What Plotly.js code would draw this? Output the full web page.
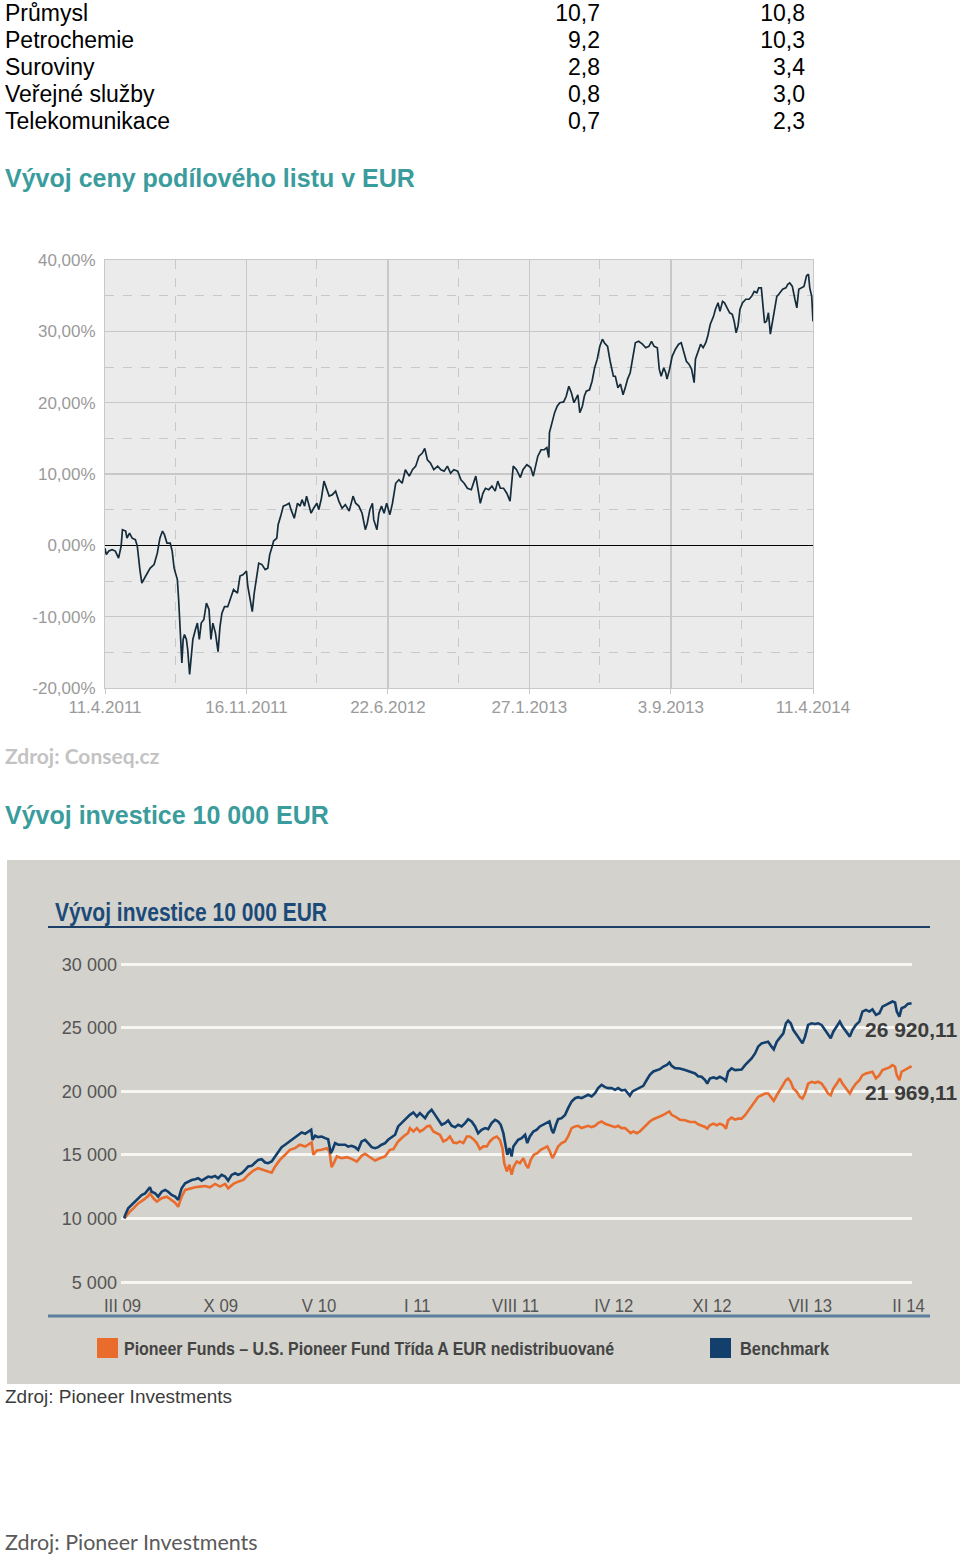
<!DOCTYPE html>
<html><head><meta charset="utf-8">
<script src="https://cdn.plot.ly/plotly-3.0.1.min.js"></script>
<style>
html,body{margin:0;padding:0;background:#fff;}
body{width:960px;height:1556px;position:relative;overflow:hidden;}
.t{position:absolute;white-space:nowrap;}
#c1{position:absolute;left:0;top:230px;width:960px;height:500px;}
#c2{position:absolute;left:7px;top:860px;width:953px;height:524px;}
</style></head>
<body>
<div id="hdr"></div>
<div id="c1"></div>
<div id="c2"></div>
<script>
// ---------- table ----------
const sectors = ['Průmysl','Petrochemie','Suroviny','Veřejné služby','Telekomunikace'];
const sectorFund = [10.7, 9.2, 2.8, 0.8, 0.7];
const sectorBench = [10.8, 10.3, 3.4, 3.0, 2.3];

// ---------- chart 1: NAV development (% since 11.4.2011) ----------
const navStart = '2011-04-11';
const navDays = [
0,2,6,11,16,21,25,27,32,34,38,42,47,50,54,57,63,70,76,81,
85,89,92,96,101,104,107,112,114,117,119,121,123,126,128,131,133,136,140,143,
146,149,153,157,161,164,167,171,175,178,181,185,190,194,199,205,209,214,219,221,
225,228,231,235,238,243,248,252,255,259,261,266,268,272,276,281,285,288,293,298,
302,305,309,312,316,319,323,328,331,335,339,343,347,352,357,362,367,372,378,384,
388,393,398,403,406,410,414,416,421,424,428,432,436,441,445,450,455,460,465,471,
476,481,486,491,495,499,504,509,515,520,525,530,535,540,546,551,556,561,567,574,579,
581,585,589,594,599,604,608,612,617,622,
627,632,637,643,647,653,659,663,666,670,
675,680,684,687,688,692,696,700,704,710,
714,718,722,726,730,732,735,739,742,745,
750,754,758,762,766,770,773,778,782,787,
790,794,798,802,806,809,813,818,821,826,
832,837,842,846,850,855,858,861,865,868,
870,874,878,883,888,892,896,900,904,908,
911,912,914,918,922,926,930,933,937,942,
945,949,952,956,959,963,967,971,974,977,
980,983,987,992,997,1001,1005,1009,1012,1016,
1019,1021,1024,1027,1030,1034,1037,1040,1043,1049,
1054,1057,1060,1064,1068,1071,1074,1078,1082,1086,
1089,1091,1094,1096];
const navPct = [
-0.4,-1.3,-0.8,-0.6,-0.8,-1.8,-0.1,2.2,2.0,1.0,1.7,1.0,0.8,-0.1,-3.4,-5.3,-4.3,-3.2,-2.7,-1.1,
1.0,2.0,1.5,0.3,0.3,-0.8,-3.2,-4.8,-7.6,-13.2,-16.5,-13.2,-12.5,-13.2,-14.6,-18.1,-16.5,-13.2,-11.8,-10.9,
-13.2,-10.9,-10.4,-8.1,-9.0,-13.2,-10.9,-12.3,-14.9,-11.4,-9.5,-8.6,-8.6,-7.6,-6.2,-6.7,-4.3,-4.1,-3.6,-5.7,
-8.1,-9.3,-6.7,-3.9,-2.5,-2.7,-3.4,-3.2,-1.3,-0.1,0.6,1.0,2.9,4.1,5.5,5.7,5.9,5.0,3.8,5.9,
5.5,6.4,5.5,6.9,5.5,4.5,5.2,5.9,5.0,6.6,9.0,8.0,6.9,7.1,7.6,6.2,5.2,5.7,4.8,6.9,
5.9,5.5,4.5,2.2,3.1,5.0,5.9,3.6,2.2,4.5,5.5,4.5,5.9,4.3,5.9,8.7,9.2,8.7,10.6,9.7,
10.6,11.1,12.5,12.9,13.6,12.0,11.5,10.6,11.1,10.6,10.4,11.1,10.1,10.6,10.4,9.2,8.7,8.0,7.8,9.7,7.3,
5.9,7.3,8.0,7.8,8.3,7.6,9.0,8.0,8.0,7.3,
6.2,11.1,10.6,9.5,10.6,11.3,10.9,9.7,11.1,12.5,
13.4,13.4,13.7,12.3,15.8,17.2,18.6,19.5,20.0,20.1,
20.9,22.3,21.4,20.0,20.9,21.1,18.6,19.5,20.9,21.6,
21.8,23.0,24.9,26.1,27.9,28.9,28.4,27.9,25.8,23.7,
23.7,22.1,22.6,21.1,22.3,23.3,24.2,26.8,28.4,28.6,
28.2,27.7,27.9,28.6,27.9,27.7,24.7,23.7,24.9,24.2,
23.3,24.7,26.5,27.5,28.2,28.4,27.0,25.8,25.4,24.7,
23.3,22.8,26.1,27.2,28.2,27.7,28.4,29.3,31.0,32.1,
33.1,34.0,32.8,34.2,34.0,33.3,32.6,32.4,31.4,29.8,
30.8,33.1,34.0,34.5,34.5,34.9,35.6,35.4,36.1,36.1,
33.5,31.2,31.4,32.6,29.6,31.7,33.5,34.9,35.2,35.9,
36.1,36.6,36.8,36.3,34.5,33.3,35.9,36.1,36.3,37.8,
38.0,36.1,34.9,31.4];
const navTickDates = ['2011-04-11','2011-11-16','2012-06-22','2013-01-27','2013-09-03','2014-04-11'];
const navTickLabels = ['11.4.2011','16.11.2011','22.6.2012','27.1.2013','3.9.2013','11.4.2014'];
const pctTicks = [-20,-10,0,10,20,30,40];
const priceTicks = [3.352,3.771,4.190,4.609,5.028,5.447,5.866];

// ---------- chart 2: investment of 10 000 EUR ----------
const invStart = '2009-03-05';
const seriesNames = ['Pioneer Funds – U.S. Pioneer Fund Třída A EUR nedistribuované','Benchmark'];
const fundDays = [
4,10,17,25,36,48,59,63,71,79,90,102,113,121,128,136,144,155,167,178,
190,201,213,224,236,243,255,266,278,289,301,312,324,335,343,351,362,374,385,397,
408,420,431,435,439,447,458,470,476,481,486,493,504,516,527,539,550,558,569,581,
592,604,615,623,634,646,657,
661,669,677,684,692,700,707,715,723,730,738,746,753,761,769,776,784,792,799,807,
815,822,830,838,845,853,861,868,874,878,884,890,895,900,907,914,922,928,933,939,
946,954,962,969,977,983,989,995,1002,1010,1018,1025,1033,1041,1048,1056,1064,1071,1079,1087,
1094,1102,1110,1117,1125,1133,1140,1148,1156,1163,1169,1175,1183,1190,1198,1206,1213,1221,1229,1236,
1244,1252,1258,1263,1271,
1282,1294,1305,1317,1324,1332,1340,1345,1351,1359,1367,1374,1382,1388,1393,1401,1409,1416,1424,1432,
1439,1447,1455,1462,1470,1478,1485,1493,1498,1505,1512,1520,1526,1531,1537,1543,1551,1558,1564,1570,
1577,1585,1593,1600,1608,1616,1623,1629,1635,1643,1650,1656,1662,1669,1673,1679,1687,1695,1702,1710,
1718,1725,1733,1741,1748,1756,1764,1771,1777,1781,1787,1792,1800,1806,1815];
const fundValues = [
10000,10260,10530,10790,11180,11450,11760,11970,11580,11320,11580,11710,11450,11240,10920,11710,12240,12370,12450,12500,
12550,12450,12710,12500,12710,12370,12710,12890,13020,13420,13760,13950,13810,13680,13600,14080,14600,15000,15390,15520,
15790,15650,15920,15970,15000,15340,15390,15520,15260,14020,14340,14870,14730,14810,14680,14470,14920,15080,14810,14550,
14730,14870,15390,15440,16050,16440,16710,
17100,16830,17100,16830,16970,17230,17280,16830,16700,16570,16050,16180,16440,15970,15920,16050,15920,16440,16440,16230,
15920,15450,15660,15660,16050,16310,16440,16180,15520,14340,13690,14210,13430,14080,14480,14340,14740,14210,13950,14610,
15000,15130,15390,15520,15660,15260,14740,15130,15660,15920,16050,16440,17100,17230,17280,17100,17230,17280,17170,17280,
17490,17620,17440,17360,17280,17170,17280,17100,17100,16910,16700,16830,16700,16830,17100,17360,17620,17800,17880,18010,
18140,18280,18410,18140,18010,
17760,17710,17580,17580,17400,17320,17190,17060,17320,17450,17320,17450,17320,17060,17710,17920,17760,17840,17840,18110,
18450,18760,19160,19550,19680,19820,19820,19500,19240,19680,20080,20470,20870,21000,20740,20210,19950,19550,19420,19820,
20600,20740,20660,20740,20600,20210,19820,19680,20210,20600,21000,20600,20340,19950,19820,20210,20600,20870,21260,21390,
21450,21530,21000,21260,21660,21790,21870,22050,21920,21260,20870,21530,21660,21790,21969.11];
const benchDays = [
4,6,13,21,29,36,44,52,59,63,67,75,82,90,98,105,113,121,128,136,
144,151,159,167,174,182,190,197,205,213,220,228,236,243,251,259,266,274,282,289,
297,305,312,320,328,335,343,351,358,366,374,381,389,397,404,412,420,427,434,437,
443,450,458,466,473,479,483,489,496,504,512,519,527,535,542,550,558,565,573,581,
588,596,604,611,619,627,634,642,650,657,
661,669,677,684,696,703,711,719,726,734,742,749,757,765,772,780,788,795,803,811,
818,826,834,841,849,857,864,870,876,881,885,890,895,899,905,910,918,926,931,937,
945,953,960,968,976,982,987,991,997,1002,1010,1018,1025,1033,1041,1048,1056,1064,1071,1079,
1087,1094,1102,1110,1117,1125,1133,1140,1148,1156,1163,1167,1173,1181,1190,1198,1206,1213,1221,1229,
1236,1244,1252,1258,1263,1271,
1282,1294,1305,1317,1324,1332,1340,1345,1351,1359,1367,1374,1382,1388,1393,1401,1409,1416,1424,1432,
1439,1447,1455,1462,1470,1478,1485,1493,1498,1505,1512,1520,1526,1531,1537,1543,1551,1558,1564,1570,
1577,1585,1593,1600,1608,1616,1623,1629,1635,1643,1650,1656,1662,1669,1673,1679,1687,1695,1702,1710,
1718,1725,1733,1741,1748,1756,1764,1771,1777,1781,1787,1792,1800,1806,1815];
const benchValues = [
10000,10260,10790,11050,11320,11580,11840,11970,12240,12450,12100,11970,11710,12100,12240,12100,11840,11710,11450,12370,
12760,12890,13020,13080,13160,12970,13160,13290,13230,13340,13160,13420,13290,12970,13420,13550,13420,13550,13810,14080,
14130,14390,14600,14650,14390,14340,14470,14870,15260,15600,15790,15970,16180,16390,16580,16760,16650,16840,16970,16180,
16500,16390,16440,16310,16230,15130,15390,15920,15790,15790,15790,15650,15710,15600,15390,16050,16180,15920,15600,15520,
15600,15790,15920,16180,16390,16580,17230,17500,17760,18020,
18140,18330,18010,18280,17880,18280,18540,18140,17750,17360,17490,17700,17280,17170,17360,17230,17490,17800,17620,17230,
16700,16970,17100,17020,17490,17750,17620,17360,16700,15660,15000,15520,14870,15660,15920,16180,16310,16570,15920,16440,
16830,16970,17230,17360,17490,17620,16970,16700,17360,17800,17880,18140,18670,19190,19450,19530,19450,19590,19720,19590,
19850,20240,20500,20320,20240,20240,20110,20240,20060,20110,19850,19640,19980,20110,20240,20420,20900,21290,21550,21680,
21730,21940,22070,22260,22000,21810,
21790,21660,21530,21390,21180,21130,20870,20600,21000,21080,21000,21130,21000,20820,21530,21790,21660,21710,21710,22050,
22310,22580,22970,23500,23760,23810,23890,23500,23290,23890,24160,24550,25340,25550,25340,24810,24420,24020,23760,24290,
25210,25340,25290,25340,25210,24810,24420,24160,24680,25080,25470,25080,24810,24420,24290,24810,25210,25470,26260,26390,
26260,26440,26000,26130,26650,26790,26920,27050,26970,26260,25860,26520,26650,26860,26920.11];
const invTickDates = ['2009-03-05','2009-10-17','2010-05-31','2011-01-12','2011-08-26','2012-04-08','2012-11-20','2013-07-04','2014-02-15'];
const invTickLabels = ['III 09','X 09','V 10','I 11','VIII 11','IV 12','XI 12','VII 13','II 14'];
const invTicks = [5000,10000,15000,20000,25000,30000];

// ---------- helpers ----------
function dayDate(start, d){
  const b = Date.parse(start + 'T00:00:00Z');
  return new Date(b + d*864e5).toISOString().slice(0,19).replace('T',' ');
}
function czNum(v, dec){
  const s = v.toFixed(dec).split('.');
  const i = s[0].replace(/\B(?=(\d{3})+(?!\d))/g, ' ');
  return dec ? i + ',' + s[1] : i;
}
const ARIAL = '"Liberation Sans", Arial, sans-serif';
const CALIBRI = 'Lato, "Open Sans", sans-serif';

// ---------- header / html texts ----------
const hdr = document.getElementById('hdr');
function txt(s, x, yc, fs, css, align){
  const d = document.createElement('div');
  d.className = 't';
  d.textContent = s;
  d.style.cssText += 'font-size:'+fs+'px;line-height:'+fs+'px;top:'+(yc - fs*0.5)+'px;' + css;
  if (align === 'right') d.style.right = (960 - x) + 'px'; else d.style.left = x + 'px';
  hdr.appendChild(d);
}
sectors.forEach((s, i) => {
  const y = 13 + i*27;
  txt(s, 5, y, 23, 'font-family:'+ARIAL+';color:#000;');
  txt(czNum(sectorFund[i],1), 600, y, 23, 'font-family:'+ARIAL+';color:#000;', 'right');
  txt(czNum(sectorBench[i],1), 805, y, 23, 'font-family:'+ARIAL+';color:#000;', 'right');
});
txt('Vývoj ceny podílového listu v EUR', 5, 178, 25, 'font-family:'+ARIAL+';font-weight:bold;color:#3a9c9c;');
txt('Zdroj: Conseq.cz', 5, 755, 21, 'font-family:'+CALIBRI+';font-weight:bold;color:#c3c3c3;');
txt('Vývoj investice 10 000 EUR', 5, 815, 25, 'font-family:'+ARIAL+';font-weight:bold;color:#3a9c9c;');
txt('Zdroj: Pioneer Investments', 5, 1396, 19, 'font-family:'+ARIAL+';color:#3c3c3c;');
txt('Zdroj: Pioneer Investments', 5, 1543, 21.5, 'font-family:'+CALIBRI+';color:#5a5a5a;');

// ---------- chart 1 ----------
const navMid = [];
for (let i = 0; i < navTickDates.length - 1; i++) {
  const a = Date.parse(navTickDates[i]+'T00:00:00Z'), b = Date.parse(navTickDates[i+1]+'T00:00:00Z');
  navMid.push(new Date((a+b)/2).toISOString().slice(0,10));
}
const grid1 = '#c8c8c8';
Plotly.newPlot('c1', [
  {x: navDays.map(d => dayDate(navStart, d)), y: navPct, type:'scatter', mode:'lines',
   line:{color:'#152c3b', width:1.7}, hoverinfo:'skip', showlegend:false}
], {
  width:960, height:500, margin:{l:105, r:147, t:30, b:42},
  paper_bgcolor:'rgba(0,0,0,0)', plot_bgcolor:'#ebebeb', showlegend:false,
  font:{family:ARIAL, size:17, color:'#9a9a9a'},
  xaxis:{type:'date', range:[dayDate(navStart,0), dayDate(navStart,1096)],
    tickmode:'array', tickvals:navTickDates, ticktext:navTickLabels,
    showgrid:true, gridcolor:grid1, gridwidth:1.3, zeroline:false,
    ticks:'outside', ticklen:5, tickcolor:grid1, showline:true, linecolor:grid1, mirror:true,
    minor:{tickmode:'array', tickvals:navMid, showgrid:true, gridcolor:grid1, griddash:'dash', gridwidth:1, ticks:''},
    tickfont:{family:ARIAL, size:17, color:'#9a9a9a'}, ticklabelstandoff:-1},
  yaxis:{range:[-20,40], tickmode:'array', tickvals:pctTicks,
    ticktext:pctTicks.map(v => czNum(v,2) + '%'),
    showgrid:true, gridcolor:grid1, gridwidth:1.3,
    minor:{dtick:5, tick0:0, showgrid:true, griddash:'dash', gridcolor:grid1, gridwidth:1, ticks:''},
    zeroline:true, zerolinecolor:'#000', zerolinewidth:1.6,
    showline:true, linecolor:grid1, mirror:true, ticks:'', ticklabelstandoff:5,
    tickfont:{family:ARIAL, size:17, color:'#9a9a9a'}},
  yaxis2:{overlaying:'y', side:'right', range:[priceTicks[0], priceTicks[priceTicks.length-1]],
    tickmode:'array', tickvals:priceTicks, ticktext:priceTicks.map(v => czNum(v,4)),
    showgrid:false, zeroline:false, showline:false, ticks:'', ticklabelstandoff:4,
    tickfont:{family:ARIAL, size:17, color:'#9a9a9a'}}
}, {staticPlot:true});

// ---------- chart 2 ----------
const W2 = 953, H2 = 524, L2 = 114, R2 = 48, T2 = 79, B2 = 89;
const pw = W2 - L2 - R2, ph = H2 - T2 - B2;
const px = x => (x - L2) / pw;            // div px -> paper x
const py = y => (H2 - B2 - y) / ph;        // div px -> paper y
const orange = '#ea6c2c', navy = '#123f6c';
const lastF = fundValues[fundValues.length-1], lastB = benchValues[benchValues.length-1];
const lastFD = dayDate(invStart, fundDays[fundDays.length-1]);
const lastBD = dayDate(invStart, benchDays[benchDays.length-1]);
Plotly.newPlot('c2', [
  {x: fundDays.map(d => dayDate(invStart, d)), y: fundValues, type:'scatter', mode:'lines',
   name:seriesNames[0], line:{color:orange, width:2.6}, hoverinfo:'skip'},
  {x: benchDays.map(d => dayDate(invStart, d)), y: benchValues, type:'scatter', mode:'lines',
   name:seriesNames[1], line:{color:navy, width:2.6}, hoverinfo:'skip'}
], {
  width:W2, height:H2, margin:{l:L2, r:R2, t:T2, b:B2},
  paper_bgcolor:'#d3d2cc', plot_bgcolor:'#d3d2cc', showlegend:false,
  font:{family:ARIAL, size:19, color:'#555'},
  title:{text:'Vývoj investice 10 000 EUR', x:48/W2, xanchor:'left', xref:'container',
    y:1 - 52/H2, yref:'container', yanchor:'middle',
    font:{family:ARIAL, size:25, weight:'bold', color:'#1b4a78'}},
  xaxis:{type:'date', range:[dayDate(invStart,-3.5), dayDate(invStart,1816)],
    tickmode:'array', tickvals:invTickDates, ticktext:invTickLabels,
    showgrid:false, zeroline:false, showline:false, ticks:'', ticklabelstandoff:-3,
    tickfont:{family:ARIAL, size:19, color:'#555'}},
  yaxis:{range:[3978, 31965], tickmode:'array', tickvals:invTicks,
    ticktext:invTicks.map(v => czNum(v,0)),
    showgrid:true, gridcolor:'#f6f6f3', gridwidth:3, zeroline:false, showline:false, ticks:'',
    ticklabelstandoff:3, tickfont:{family:ARIAL, size:19, color:'#555'}},
  shapes:[
    {type:'line', xref:'paper', yref:'paper', x0:px(41), x1:px(923), y0:py(67), y1:py(67), line:{color:'#1b3f66', width:2}},
    {type:'line', xref:'paper', yref:'paper', x0:px(41), x1:px(923), y0:py(456), y1:py(456), line:{color:'#5b7e9c', width:3}},
    {type:'rect', xref:'paper', yref:'paper', x0:px(90), x1:px(111), y0:py(498), y1:py(478), fillcolor:orange, line:{width:0}},
    {type:'rect', xref:'paper', yref:'paper', x0:px(703), x1:px(724), y0:py(498), y1:py(478), fillcolor:navy, line:{width:0}}
  ],
  annotations:[
    {xref:'paper', yref:'paper', x:px(115), y:py(488), xanchor:'left', yanchor:'middle', align:'left', showarrow:false,
     text:seriesNames[0], font:{family:ARIAL, size:19, weight:'bold', color:'#444'}},
    {xref:'paper', yref:'paper', x:px(731), y:py(488), xanchor:'left', yanchor:'middle', align:'left', showarrow:false,
     text:seriesNames[1], font:{family:ARIAL, size:19, weight:'bold', color:'#444'}},
    {xref:'x', yref:'y', x:lastBD, y:lastB, xanchor:'center', yanchor:'top', yshift:-13, showarrow:false,
     text:czNum(lastB,2), font:{family:ARIAL, size:21, weight:'bold', color:'#3c3c3c'}},
    {xref:'x', yref:'y', x:lastFD, y:lastF, xanchor:'center', yanchor:'top', yshift:-13, showarrow:false,
     text:czNum(lastF,2), font:{family:ARIAL, size:21, weight:'bold', color:'#3c3c3c'}}
  ]
}, {staticPlot:true}).then(gd => {
  // emulate the condensed typeface of the original graphic
  function squeeze(el, k){
    const w = el.getComputedTextLength();
    if (w > 0) { el.setAttribute('textLength', (w*k).toFixed(1)); el.setAttribute('lengthAdjust','spacingAndGlyphs'); }
  }
  gd.querySelectorAll('.gtitle').forEach(el => squeeze(el, 0.84));
  const ann = gd.querySelectorAll('.annotation-text');
  if (ann[0]) squeeze(ann[0], 0.84);
  if (ann[1]) squeeze(ann[1], 0.86);
  gd.querySelectorAll('.xtick text').forEach(el => squeeze(el, 0.88));
  gd.querySelectorAll('.ytick text').forEach(el => squeeze(el, 0.95));
});
</script>
</body></html>
